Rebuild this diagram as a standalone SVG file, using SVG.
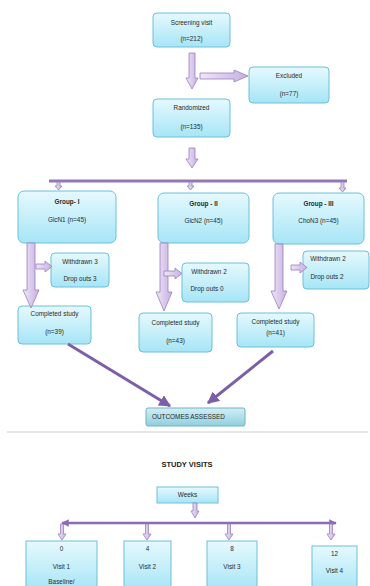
<svg xmlns="http://www.w3.org/2000/svg" width="370" height="586" viewBox="0 0 370 586">
<defs>
<linearGradient id="boxg" x1="0" y1="0" x2="0" y2="1">
<stop offset="0" stop-color="#e6f9fe"/>
<stop offset="1" stop-color="#a6e5f6"/>
</linearGradient>
<linearGradient id="outg" x1="0" y1="0" x2="0" y2="1">
<stop offset="0" stop-color="#d4eef4"/>
<stop offset="1" stop-color="#8fcfdd"/>
</linearGradient>
<linearGradient id="arrg" x1="0" y1="0" x2="1" y2="0">
<stop offset="0" stop-color="#efe6f7"/>
<stop offset="1" stop-color="#c6afdf"/>
</linearGradient>
<marker id="ah" viewBox="0 0 10 10" refX="9" refY="5" markerWidth="4" markerHeight="4" orient="auto-start-reverse">
<path d="M0,0 L10,5 L0,10 z" fill="#7d5ea8"/>
</marker>
<marker id="ah2" viewBox="0 0 10 10" refX="9" refY="5" markerWidth="3" markerHeight="3" orient="auto-start-reverse">
<path d="M0,0 L10,5 L0,10 z" fill="#8a6db5"/>
</marker>
</defs>
<style>
.box{fill:url(#boxg);stroke:#6cc0da;stroke-width:1}
.out{fill:url(#outg);stroke:#6cb4c8;stroke-width:1}
.t{font-family:"Liberation Sans",Arial,sans-serif;font-size:6.4px;fill:#2a2a2a;text-anchor:middle}
.tb{font-family:"Liberation Sans",Arial,sans-serif;font-size:6.4px;font-weight:bold;fill:#2a2a2a;text-anchor:middle}
.th{font-family:"Liberation Sans",Arial,sans-serif;font-size:7.5px;font-weight:bold;fill:#222;text-anchor:middle}
.bv{fill:url(#arrg);stroke:#9a7fc3;stroke-width:0.8}
.bar{stroke:#9178b8;stroke-width:3;fill:none}
.diag{stroke:#7d5ea8;stroke-width:3;fill:none}
</style>
<rect width="370" height="586" fill="#ffffff"/>

<g id="screening"><rect class="box" x="153" y="13" width="77" height="34" rx="4"/><text class="t" x="191.5" y="25">Screening visit</text><text class="t" x="191.5" y="41">(n=212)</text></g>
<g id="excluded"><rect class="box" x="249" y="67" width="80" height="36" rx="4"/><text class="t" x="289" y="78">Excluded</text><text class="t" x="289" y="96">(n=77)</text></g>
<g id="randomized"><rect class="box" x="153" y="99" width="77" height="38" rx="4"/><text class="t" x="191.5" y="110">Randomized</text><text class="t" x="191.5" y="129">(n=135)</text></g>

<g id="group1"><rect class="box" x="18" y="191" width="98" height="52" rx="6"/><text class="tb" x="67" y="204">Group- I</text><text class="t" x="67" y="222">GlcN1 (n=45)</text></g>
<g id="group2"><rect class="box" x="158" y="193" width="91" height="50" rx="6"/><text class="tb" x="203.5" y="206">Group - II</text><text class="t" x="203.5" y="223">GlcN2 (n=45)</text></g>
<g id="group3"><rect class="box" x="273" y="193" width="91" height="51" rx="6"/><text class="tb" x="318.5" y="206">Group - III</text><text class="t" x="318.5" y="223">ChoN3 (n=45)</text></g>

<g id="withdrawn1"><rect class="box" x="51" y="253" width="58" height="34" rx="4"/><text class="t" x="80" y="264">Withdrawn 3</text><text class="t" x="80" y="281">Drop outs 3</text></g>
<g id="withdrawn2"><rect class="box" x="182" y="263" width="67" height="39" rx="4"/><text class="t" x="209" y="274">Withdrawn 2</text><text class="t" x="207" y="291">Drop outs 0</text></g>
<g id="withdrawn3"><rect class="box" x="303" y="251" width="66" height="38" rx="4"/><text class="t" x="328" y="261">Withdrawn 2</text><text class="t" x="327" y="279">Drop outs 2</text></g>

<g id="completed1"><rect class="box" x="18" y="306" width="73" height="38" rx="4"/><text class="t" x="54.5" y="316">Completed study</text><text class="t" x="54.5" y="334">(n=39)</text></g>
<g id="completed2"><rect class="box" x="139" y="313" width="73" height="39" rx="4"/><text class="t" x="175.5" y="325">Completed study</text><text class="t" x="175.5" y="343">(n=43)</text></g>
<g id="completed3"><rect class="box" x="237" y="313" width="77" height="34" rx="4"/><text class="t" x="275.5" y="324">Completed study</text><text class="t" x="275.5" y="335">(n=41)</text></g>

<g id="outcomes"><rect class="out" x="146" y="408" width="99" height="18" rx="2"/><text class="t" x="152" y="419" style="text-anchor:start">OUTCOMES ASSESSED</text></g>

<line x1="7" y1="432" x2="368" y2="432" stroke="#cccccc" stroke-width="1"/>
<text class="th" x="187" y="467">STUDY VISITS</text>

<g id="weeks"><rect class="box" x="157" y="487" width="61" height="16"/><text class="t" x="187.5" y="497">Weeks</text></g>

<g id="visit1"><rect class="box" x="26" y="541" width="71" height="50"/><text class="t" x="61.5" y="551">0</text><text class="t" x="61.5" y="569">Visit 1</text><text class="t" x="61.5" y="584">Baseline/</text></g>
<g id="visit2"><rect class="box" x="124" y="541" width="47" height="50"/><text class="t" x="147.5" y="551">4</text><text class="t" x="147.5" y="569">Visit 2</text></g>
<g id="visit3"><rect class="box" x="207" y="541" width="50" height="50"/><text class="t" x="232" y="551">8</text><text class="t" x="232" y="569">Visit 3</text></g>
<g id="visit4"><rect class="box" x="312" y="546" width="45" height="45"/><text class="t" x="334.5" y="556">12</text><text class="t" x="334.5" y="573">Visit 4</text></g>

<g id="connectors">
<polygon class="bv" points="189,53 195,53 195,78 198,78 192,89 186,78 189,78"/>
<polygon class="bv" points="200,73 234,73 234,70 248,76 234,82 234,79 200,79"/>
<polygon class="bv" points="189,148 195,148 195,159 198,159 192,168 186,159 189,159"/>
<line class="bar" x1="49" y1="181" x2="347" y2="181"/>
<polygon class="bv" points="57,182 60,182 60,186 62,186 58.5,190 55,186 57,186"/>
<polygon class="bv" points="189,182 192,182 192,186 194,186 190.5,190 187,186 189,186"/>
<polygon class="bv" points="341,182 344,182 344,188 346,188 342.5,192 339,188 341,188"/>
<polygon class="bv" points="27,243 35,243 35,290 39,290 31,308 23,290 27,290"/>
<polygon class="bv" points="160,243 168,243 168,292 172,292 164,311 156,292 160,292"/>
<polygon class="bv" points="275,244 283,244 283,291 287,291 279,309 271,291 275,291"/>
<polygon class="bv" points="36,264 45,264 45,261 52,266.5 45,272 45,269 36,269"/>
<polygon class="bv" points="164,271 175,271 175,268 182,273.5 175,279 175,276 164,276"/>
<polygon class="bv" points="291,265 300,265 300,262 307,267.5 300,273 300,270 291,270"/>
<line class="diag" x1="68" y1="344" x2="170" y2="406" marker-end="url(#ah)"/>
<line class="diag" x1="273" y1="351" x2="208" y2="403" marker-end="url(#ah)"/>
<polygon class="bv" points="193,503 197,503 197,511 199,511 195,518 191,511 193,511"/>
<line x1="62" y1="523" x2="336" y2="523" stroke="#8a6db5" stroke-width="2.5" marker-start="url(#ah2)" marker-end="url(#ah2)"/>
<polygon class="bv" points="60.5,524 63.5,524 63.5,534 66,534 62,540 58,534 60.5,534"/>
<polygon class="bv" points="145.5,524 148.5,524 148.5,534 151,534 147,540 143,534 145.5,534"/>
<polygon class="bv" points="227.5,524 230.5,524 230.5,534 233,534 229,540 225,534 227.5,534"/>
<polygon class="bv" points="329.5,524 332.5,524 332.5,534 335,534 331,540 327,534 329.5,534"/>
</g>
</svg>
